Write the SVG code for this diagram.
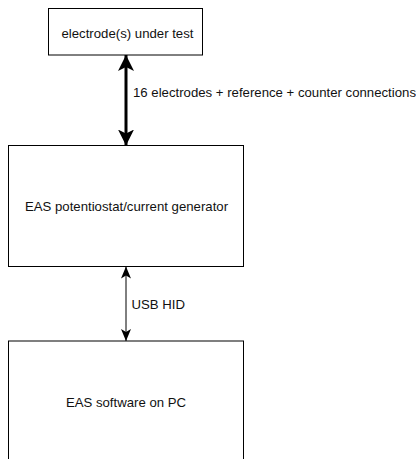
<svg xmlns="http://www.w3.org/2000/svg" width="416" height="459" viewBox="0 0 416 459">
  <style>
    .box { fill: #ffffff; stroke: #000000; stroke-width: 1; }
    .lbl { font-family: "Liberation Sans", Arial, sans-serif; font-size: 13.2px; fill: #111111; }
    .mid { text-anchor: middle; }
  </style>
  <defs>
    <marker id="headThick" viewBox="0 0 16 16" markerWidth="16" markerHeight="16" refX="16" refY="8" orient="auto-start-reverse" markerUnits="userSpaceOnUse">
      <path d="M0,0 L16,8 L0,16 L4,8 Z" fill="#000000"/>
    </marker>
    <marker id="headThin" viewBox="0 0 12 10" markerWidth="12" markerHeight="10" refX="12" refY="5" orient="auto-start-reverse" markerUnits="userSpaceOnUse">
      <path d="M0,0 L12,5 L0,10 L3,5 Z" fill="#000000"/>
    </marker>
  </defs>
  <rect width="416" height="459" fill="#ffffff"/>

  <g id="connectors">
    <line x1="126" y1="55" x2="126" y2="145.5" stroke="#000000" stroke-width="3" marker-start="url(#headThick)" marker-end="url(#headThick)"/>
    <text class="lbl" x="133" y="96.5">16 electrodes + reference + counter connections</text>
    <line x1="126" y1="266.5" x2="126" y2="341" stroke="#000000" stroke-width="1" marker-start="url(#headThin)" marker-end="url(#headThin)"/>
    <text class="lbl" x="131.5" y="308.5">USB HID</text>
  </g>

  <g id="electrodes">
    <rect class="box" x="48.5" y="8.5" width="154" height="46.5"/>
    <text class="lbl mid" x="127.5" y="37.5">electrode(s) under test</text>
  </g>

  <g id="potentiostat">
    <rect class="box" x="8.5" y="145.5" width="235" height="121"/>
    <text class="lbl mid" x="126.5" y="210.5">EAS potentiostat/current generator</text>
  </g>

  <g id="software">
    <rect class="box" x="8.5" y="341" width="235" height="130"/>
    <text class="lbl mid" x="126" y="407">EAS software on PC</text>
  </g>
</svg>
